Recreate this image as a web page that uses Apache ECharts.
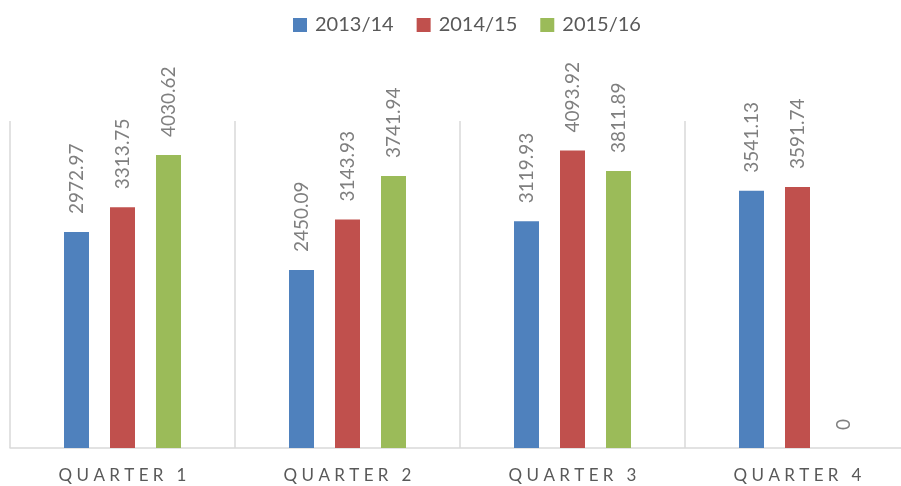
<!DOCTYPE html>
<html>
<head>
<meta charset="utf-8">
<script src="https://cdn.jsdelivr.net/npm/echarts@6/dist/echarts.min.js"></script>
<style>
  html, body { margin: 0; padding: 0; background: #fff; }
  #chart { width: 901px; height: 486px; }
</style>
</head>
<body>
<div id="chart"></div>
<script>
const quarters = ['Quarter 1', 'Quarter 2', 'Quarter 3', 'Quarter 4'];
const seriesNames = ['2013/14', '2014/15', '2015/16'];
const values2013 = [2972.97, 2450.09, 3119.93, 3541.13];
const values2014 = [3313.75, 3143.93, 4093.92, 3591.74];
const values2015 = [4030.62, 3741.94, 3811.89, 0];
const colors = ['#4f81bd', '#c0504d', '#9bbb59'];

const chart = echarts.init(document.getElementById('chart'));

// spread letters out, the original axis text is letter-spaced
function spaced(text) {
  return text.toUpperCase().split('').join(' ');
}

function makeSeries(name, values, color) {
  return {
    name: name,
    type: 'bar',
    data: values,
    barWidth: 25,
    barGap: '84%',
    itemStyle: { color: color },
    label: {
      show: true,
      position: 'top',
      distance: 18,
      rotate: 90,
      align: 'left',
      verticalAlign: 'middle',
      color: '#7f7f7f',
      fontSize: 19,
      fontFamily: 'Lato',
      formatter: (p) => String(p.value),
    },
  };
}

chart.setOption({
  animation: false,
  color: colors,
  legend: {
    top: 10,
    left: 288,
    itemWidth: 14,
    itemHeight: 14,
    itemGap: 23,
    icon: 'rect',
    textStyle: { color: '#595959', fontSize: 20, fontFamily: 'Lato', padding: [0, 0, 0, 3] },
    data: seriesNames,
  },
  grid: {
    left: 10,
    right: -9,
    top: 121,
    bottom: 38,
    outerBoundsMode: 'none',
  },
  xAxis: {
    type: 'category',
    data: quarters,
    axisLine: { lineStyle: { color: '#d9d9d9', width: 1.5 } },
    axisTick: { show: false },
    splitLine: { show: true, lineStyle: { color: '#d9d9d9', width: 1.5 } },
    axisLabel: {
      color: '#595959',
      fontSize: 17,
      fontFamily: 'Lato',
      margin: 19,
      formatter: spaced,
    },
  },
  yAxis: {
    type: 'value',
    min: 0,
    max: 4500,
    show: false,
    splitLine: { show: false },
  },
  series: [
    makeSeries(seriesNames[0], values2013, colors[0]),
    makeSeries(seriesNames[1], values2014, colors[1]),
    makeSeries(seriesNames[2], values2015, colors[2]),
  ],
});
</script>
</body>
</html>
